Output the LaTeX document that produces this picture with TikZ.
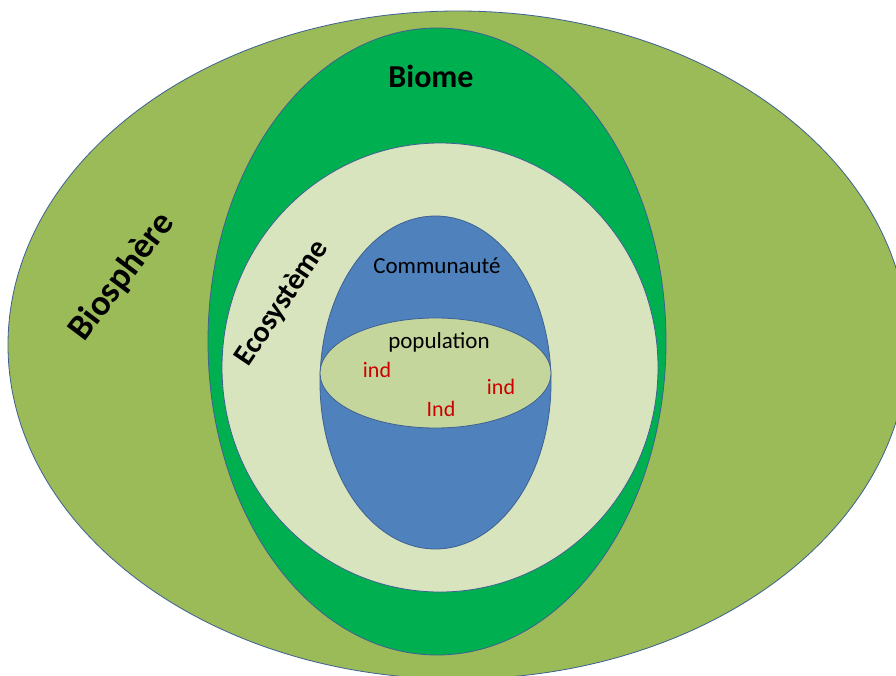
\documentclass[tikz,border=0pt]{standalone}
\usepackage{fontspec}
\setmainfont{Carlito}
\usepackage{color}
\definecolor{biosph}{RGB}{155,187,89}
\definecolor{biomegreen}{RGB}{0,176,80}
\definecolor{ecopale}{RGB}{216,228,190}
\definecolor{commblue}{RGB}{79,129,189}
\definecolor{popgreen}{RGB}{196,214,156}
\definecolor{rim}{RGB}{62,96,146}
\definecolor{indred}{RGB}{204,0,0}
\tikzset{zone/.style={draw=rim,line width=0.8pt},
  indiv/.style={text=indred,anchor=base,font=\fontsize{22}{26}\selectfont}}

\begin{document}
\begin{tikzpicture}[x=1pt,y=-1pt]
		\useasboundingbox (0,0) rectangle (896,675);
		\clip (0,0) rectangle (896,675);
		\draw[zone,fill=biosph] (458,345) ellipse [x radius=450, y radius=334];
		\draw[zone,fill=biomegreen] (437,341.5) ellipse [x radius=229, y radius=313.5];
		\draw[zone,fill=ecopale] (440,367.5) ellipse [x radius=218, y radius=224.5];
		\draw[zone,fill=commblue] (435.5,382.5) ellipse [x radius=115.5, y radius=166.5];
		\draw[zone,fill=popgreen] (435.5,373) ellipse [x radius=115.5, y radius=55];
		\node[anchor=base,font=\fontsize{32}{38}\bfseries] (biome) at (431,87) {Biome};
		\node[rotate=53,font=\fontsize{36}{42}\bfseries] (biosphere) at (122,277) {Biosphère};
		\node[rotate=56,font=\fontsize{30}{36}\bfseries] (ecosysteme) at (282,303) {Ecosystème};
		\node[anchor=base,font=\fontsize{23}{28}\selectfont] (communaute) at (437,273) {Communauté};
		\node[anchor=base,font=\fontsize{23}{28}\selectfont] (population) at (439,348) {population};
		\node[indiv] (ind1) at (377,377) {ind};
		\node[indiv] (ind2) at (501,394) {ind};
		\node[indiv] (ind3) at (441,416) {Ind};
	\end{tikzpicture}
\end{document}
